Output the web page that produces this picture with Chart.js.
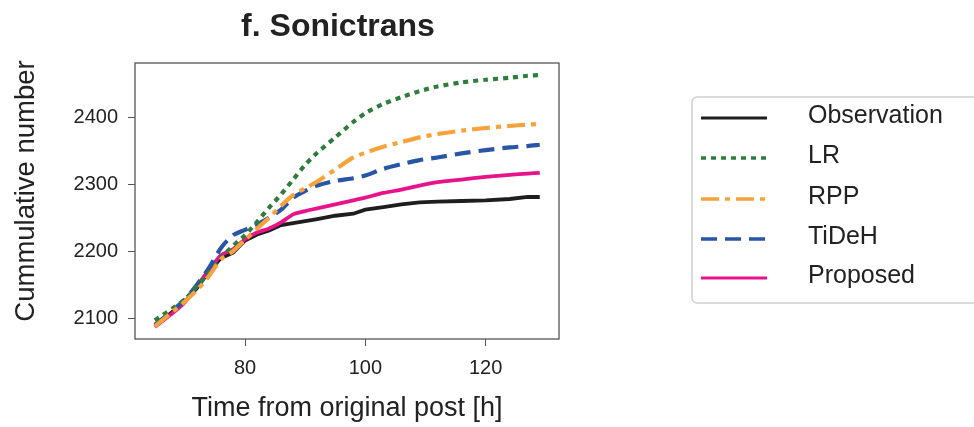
<!DOCTYPE html>
<html>
<head>
<meta charset="utf-8">
<script src="https://cdn.jsdelivr.net/npm/chart.js@4/dist/chart.umd.min.js"></script>
<style>
  html, body { margin:0; padding:0; background:#fff; }
  #wrap { width:974px; height:427px; }
</style>
</head>
<body>
<div id="wrap"><canvas id="c" width="974" height="427"></canvas></div>
<script>
// Datos
const hours = [65,68,70,72,74,76,78,80,82,84,86,88,90,92,95,98,100,103,106,109,112,116,120,124,127,129];
const observation = [2088,2110,2125,2145,2170,2190,2198,2216,2225,2231,2239,2242,2245,2248,2253,2256,2262,2266,2270,2273,2274,2275,2276,2278,2281,2281];
const lr          = [2097,2115,2128,2148,2168,2190,2208,2224,2244,2265,2285,2307,2329,2347,2370,2393,2406,2420,2430,2439,2446,2452,2456,2459,2462,2463];
const rpp         = [2088,2110,2125,2142,2163,2188,2200,2217,2234,2250,2268,2284,2294,2304,2322,2340,2347,2356,2363,2370,2375,2380,2384,2387,2389,2390];
const tideh       = [2090,2112,2128,2150,2175,2205,2224,2232,2240,2250,2262,2280,2290,2298,2305,2309,2313,2323,2330,2336,2340,2346,2351,2355,2357,2359];
const proposed    = [2087,2108,2124,2148,2172,2194,2203,2218,2228,2234,2243,2255,2260,2264,2270,2276,2280,2287,2292,2298,2303,2307,2311,2314,2316,2317];

const xTicks = [80,100,120];
const yTicks = [2100,2200,2300,2400];
const seriesNames = ['Observation','LR','RPP','TiDeH','Proposed'];
const titleText = 'f. Sonictrans';
const yTitle = 'Cummulative number';
const xTitle = 'Time from original post [h]';

const FONT = '"Liberation Sans", Arial, sans-serif';
const TXT = '#222';

const pts = arr => hours.map((h,i)=>({x:h, y:arr[i]}));

const datasets = [
  {label:seriesNames[0], data:pts(observation), borderColor:'#1e1e1e', borderWidth:3.8, tension:0,   order:5},
  {label:seriesNames[1], data:pts(lr),          borderColor:'#2f7d3c', borderWidth:4.2, tension:0.25, borderDash:[5,5], order:2},
  {label:seriesNames[2], data:pts(rpp),         borderColor:'#f7a23a', borderWidth:4.2, tension:0.25, borderDash:[18,6,5,6], order:1},
  {label:seriesNames[3], data:pts(tideh),       borderColor:'#2855a6', borderWidth:4.2, tension:0.25, borderDash:[16,8], order:3},
  {label:seriesNames[4], data:pts(proposed),    borderColor:'#e8138b', borderWidth:3.8, tension:0.2,  order:4}
].map(d=>({...d, pointRadius:0, fill:false, borderCapStyle:'butt'}));

// Marco del área de trazado + título + título eje Y
const framePlugin = {
  id:'frame',
  afterDatasetsDraw(chart){
    const {ctx, chartArea:a} = chart;
    ctx.save();
    ctx.strokeStyle = '#555'; ctx.lineWidth = 1.3;
    ctx.strokeRect(a.left, a.top, a.right-a.left, a.bottom-a.top);
    ctx.fillStyle = TXT;
    ctx.textAlign = 'center'; ctx.textBaseline = 'middle';
    ctx.font = 'bold 32px ' + FONT;
    ctx.fillText(titleText, (a.left + a.right)/2 - 9, 27);
    ctx.font = '27.5px ' + FONT;
    ctx.translate(26, 191); ctx.rotate(-Math.PI/2);
    ctx.fillText(yTitle, 0, 0);
    ctx.restore();
  }
};

// Leyenda a la derecha
const legendBox = {
  id:'legendBox',
  afterDraw(chart){
    const ctx = chart.ctx;
    const rows = [118,158,199,239,278];
    ctx.save();
    ctx.strokeStyle = '#cfcfcf'; ctx.lineWidth = 1.5;
    ctx.beginPath(); ctx.roundRect(692, 97, 300, 206, 5); ctx.stroke();
    chart.data.datasets.forEach((d,i)=>{
      const y = rows[i];
      ctx.strokeStyle = d.borderColor;
      ctx.lineWidth = d.borderWidth - 0.6;
      ctx.setLineDash(d.borderDash || []);
      ctx.lineCap = 'butt';
      ctx.beginPath(); ctx.moveTo(701, y); ctx.lineTo(767, y); ctx.stroke();
      ctx.setLineDash([]);
      ctx.fillStyle = TXT;
      ctx.font = '25px ' + FONT;
      ctx.textBaseline = 'middle';
      ctx.fillText(d.label, 808, y - 2);
    });
    ctx.restore();
  }
};

new Chart(document.getElementById('c').getContext('2d'), {
  type:'line',
  data:{ datasets },
  options:{
    responsive:false, animation:false,
    layout:{ padding:{ left:0, right:415, top:63, bottom:0 } },
    plugins:{
      legend:{ display:false },
      tooltip:{ enabled:false },
      title:{ display:false }
    },
    scales:{
      x:{
        type:'linear', min:61.7, max:132.2,
        afterBuildTicks: s => { s.ticks = xTicks.map(v=>({value:v})); },
        afterFit: s => { s.height = 88; },
        grid:{ display:true, drawOnChartArea:false, drawTicks:true, tickLength:7, color:'#555' },
        border:{ display:false },
        ticks:{ color:TXT, font:{ family:FONT, size:20 }, padding:10, maxRotation:0,
          callback: v => String(v) },
        title:{ display:true, text:xTitle, color:TXT,
          font:{ family:FONT, size:27 }, padding:{ top:0, bottom:2 } }
      },
      y:{
        type:'linear', min:2069, max:2481,
        afterBuildTicks: s => { s.ticks = yTicks.map(v=>({value:v})); },
        afterFit: s => { s.width = 135; },
        grid:{ display:true, drawOnChartArea:false, drawTicks:true, tickLength:7, color:'#555' },
        border:{ display:false },
        ticks:{ color:TXT, font:{ family:FONT, size:20 }, padding:10,
          callback: v => String(v) },
        title:{ display:false }
      }
    }
  },
  plugins:[framePlugin, legendBox]
});
</script>
</body>
</html>
